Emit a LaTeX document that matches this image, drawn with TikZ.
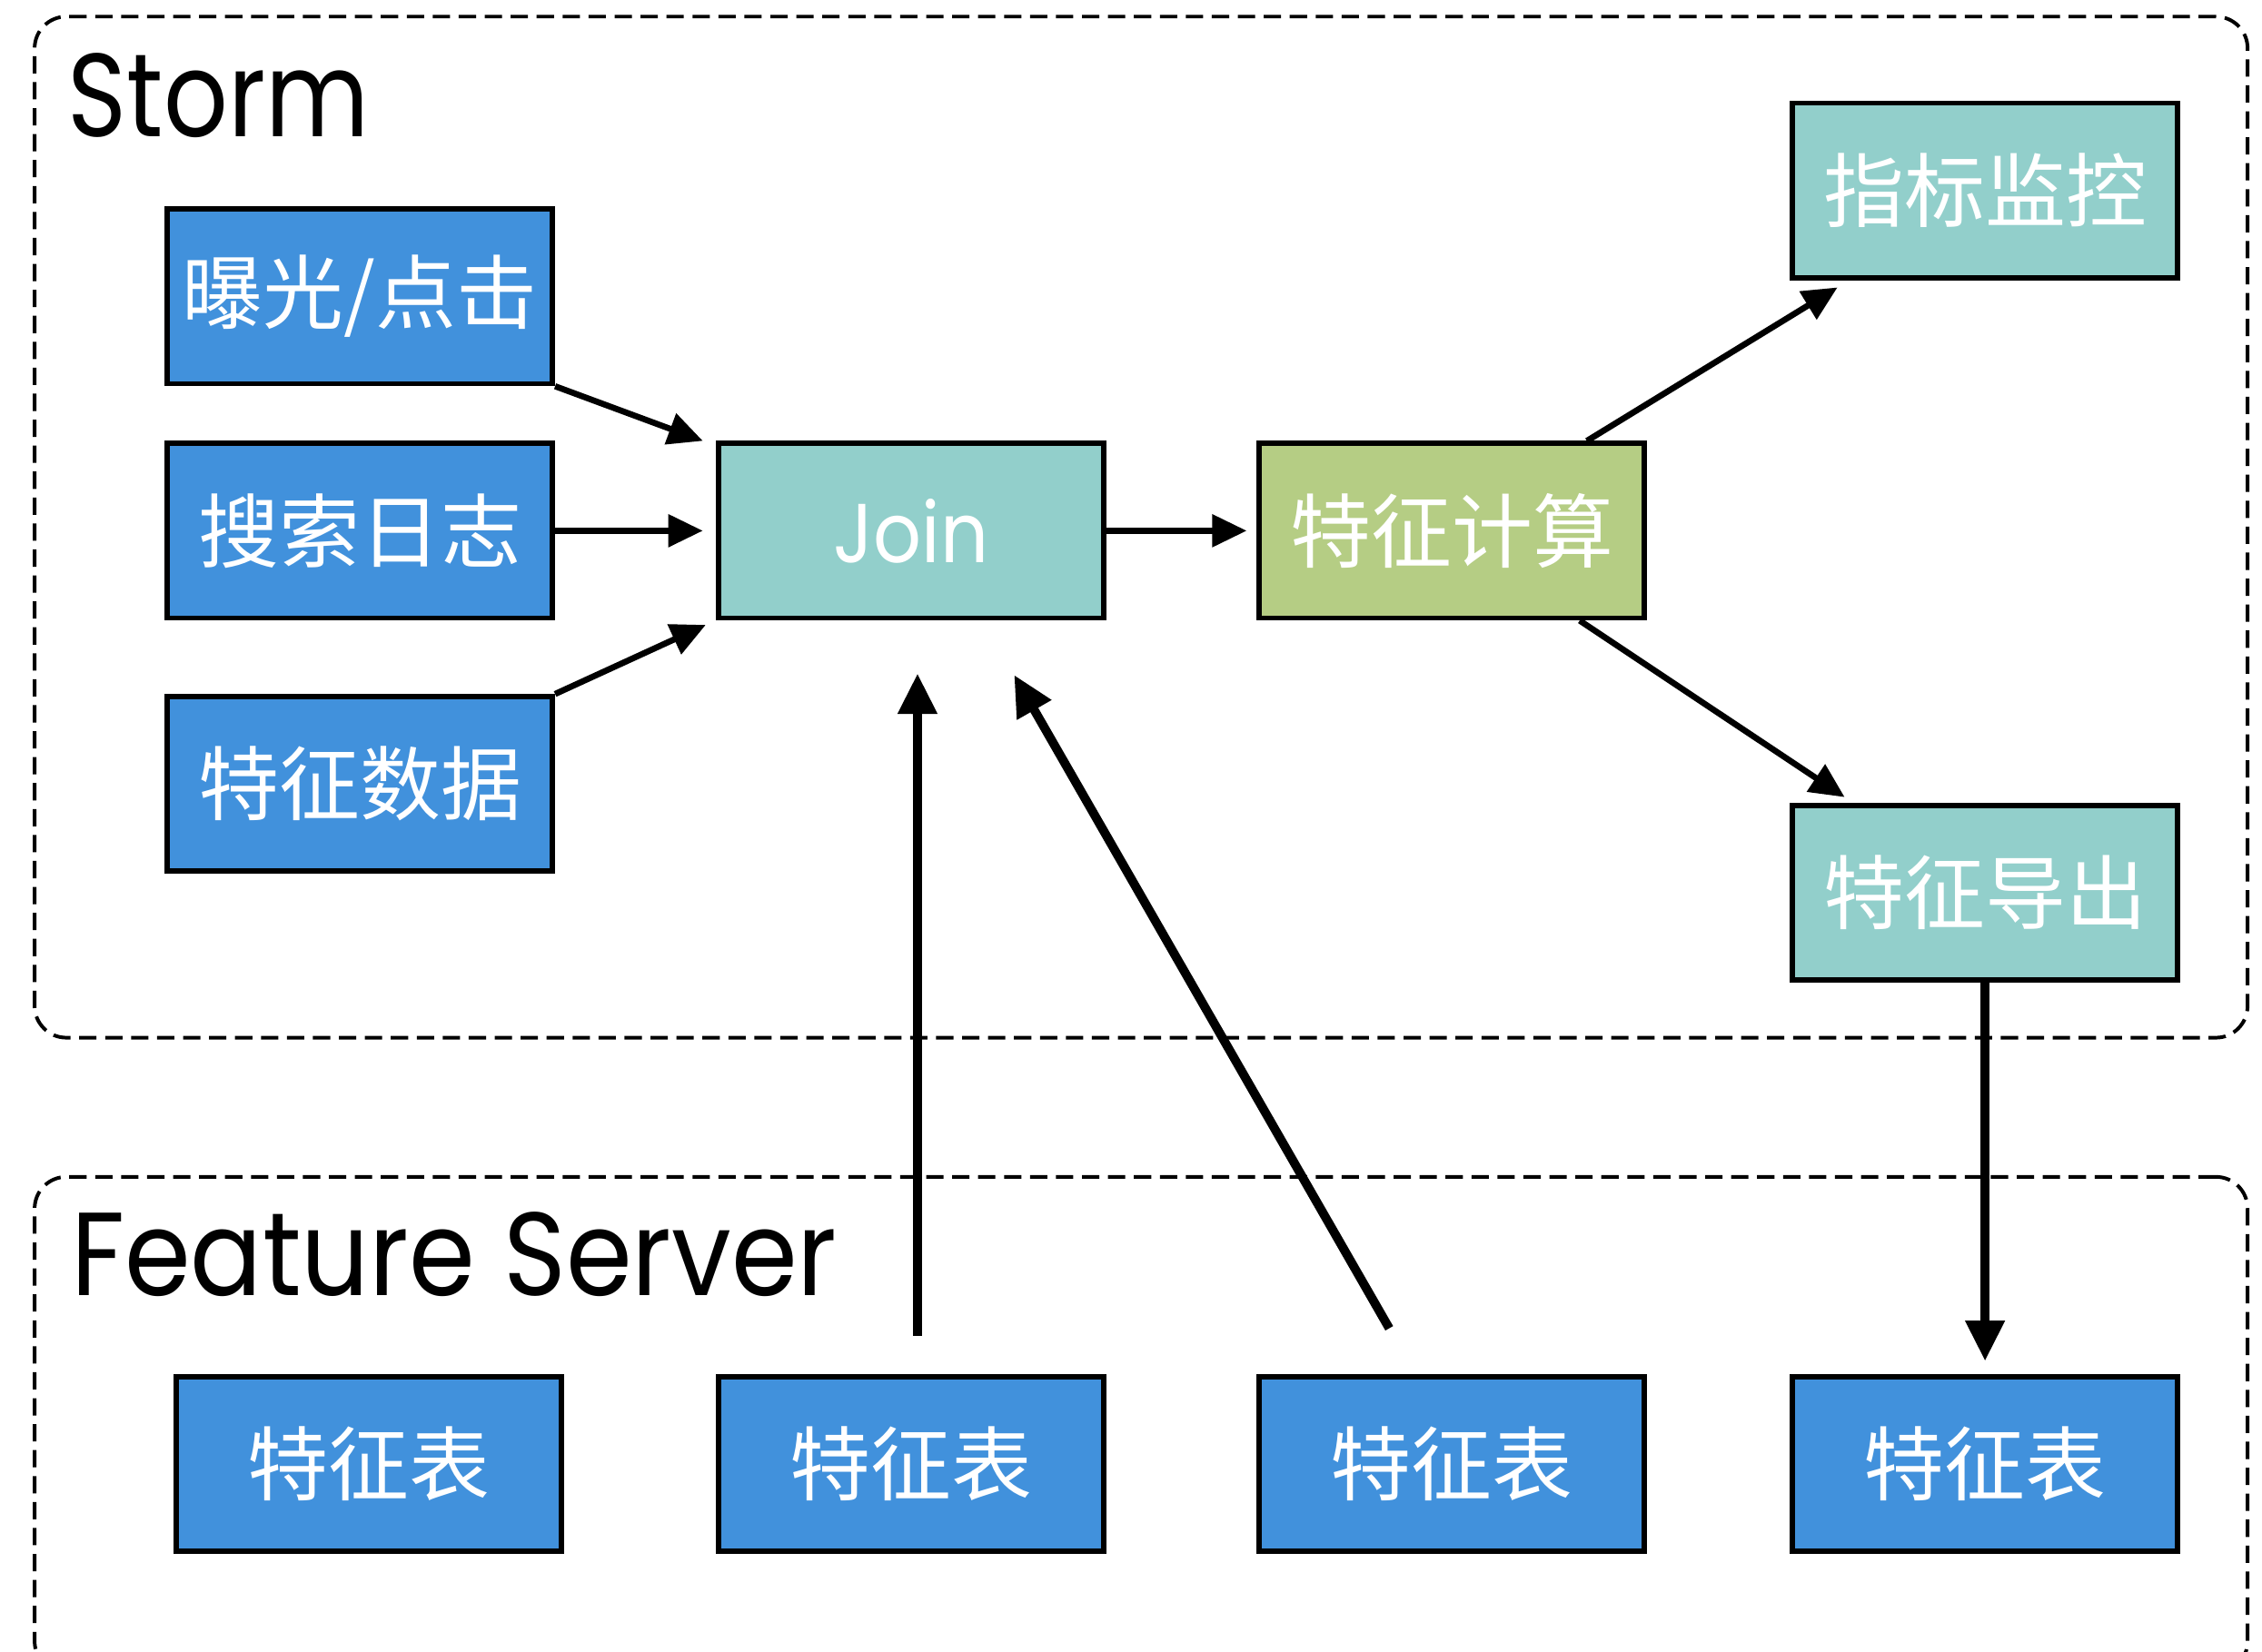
\documentclass[tikz,border=0pt]{standalone}
\usepackage{fontspec}
\setmainfont{Poppins}
\newfontfamily\cjk{Noto Sans CJK SC}
\newfontfamily\gothic[FakeStretch=0.85]{Poppins}
\newfontfamily\gothicwide[FakeStretch=0.9]{Poppins}
\usetikzlibrary{arrows.meta,calc}
\definecolor{boxblue}{RGB}{65,145,220}
\definecolor{boxteal}{RGB}{146,207,203}
\definecolor{boxgreen}{RGB}{181,205,132}
\begin{document}
\begin{tikzpicture}[x=1pt,y=-1pt,
  box/.style={draw=black,line width=3.6pt,minimum width=267pt,minimum height=121pt,inner sep=0pt,text=white,font=\cjk\fontsize{56}{56}\selectfont},
  bluebox/.style={box,fill=boxblue},
  tealbox/.style={box,fill=boxteal},
  greenbox/.style={box,fill=boxgreen},
  arr/.style={line width=4.2pt,-{Triangle[length=24pt,width=22pt]}},
  bigarr/.style={line width=6.2pt,-{Triangle[length=28pt,width=26pt]}},
  region/.style={draw=black,line width=2.5pt,dash pattern=on 12pt off 6pt,rounded corners=22pt,minimum width=1534pt,inner sep=0pt},
  title/.style={anchor=base west,inner sep=0pt,font=\gothic\fontsize{82}{82}\selectfont}
]
\useasboundingbox (0,0) rectangle (1568,1145);
% regions
\node[region,minimum height=708pt] (storm) at (791,365.5) {};
\node[region,minimum height=344pt] (fs) at (791,988) {};
\node[title] (stormlbl) at (47,95) {Storm};
\node[title,font=\gothicwide\fontsize{82}{82}\selectfont] (fslbl) at (49,898) {Feature Server};
% boxes
\node[bluebox] (exp) at (249.5,205.5) {曝光/点击};
\node[bluebox] (search) at (249.5,368) {搜索日志};
\node[bluebox] (featdata) at (249.5,543.5) {特征数据};
\node[tealbox,font=\gothicwide\fontsize{58}{58}\selectfont] (join) at (631.5,368) {Join};
\node[greenbox] (calc) at (1006.5,368) {特征计算};
\node[tealbox] (monitor) at (1376,132) {指标监控};
\node[tealbox] (export) at (1376,619) {特征导出};
\node[bluebox] (t1) at (255.5,1015) {特征表};
\node[bluebox] (t2) at (631.5,1015) {特征表};
\node[bluebox] (t3) at (1006.5,1015) {特征表};
\node[bluebox] (t4) at (1376,1015) {特征表};
% free ends
\coordinate (up1s) at (636,926);
\coordinate (up1e) at (636,467);
\coordinate (up2s) at (963,921);
\coordinate (up2e) at (703,468);
% connectors
\draw[arr] (exp.south east) -- ([xshift=-9pt]join.north west);
\draw[arr] (search.east) -- ([xshift=-9pt]join.west);
\draw[arr] (featdata.north east) -- ([xshift=-7pt,yshift=-3pt]join.south west);
\draw[arr] (join.east) -- ([xshift=-7pt]calc.west);
\draw[arr] ([xshift=93.5pt]calc.north) -- ([xshift=33pt,yshift=-5pt]monitor.south west);
\draw[arr] ([xshift=88.5pt]calc.south) -- ([xshift=38pt,yshift=4pt]export.north west);
\draw[bigarr] (export.south) -- ([yshift=9pt]t4.north);
\draw[bigarr] (up1s) -- (up1e);
\draw[bigarr] (up2s) -- (up2e);
\end{tikzpicture}
\end{document}
